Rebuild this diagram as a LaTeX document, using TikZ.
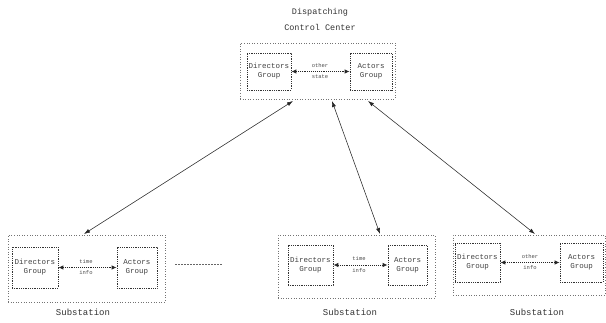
\documentclass[tikz,border=0pt]{standalone}
\usepackage{fontspec}
\setmonofont{Liberation Mono}
\usetikzlibrary{arrows.meta}
\begin{document}
\begin{tikzpicture}[x=1pt,y=-1pt,
  outerbox/.style={draw=black!55,dotted,line width=0.6pt,minimum width=#1,inner sep=0pt},
  innerbox/.style={draw=black!80,densely dotted,line width=0.8pt,inner sep=0pt,align=center,
     font=\ttfamily\fontsize{7.5}{9}\selectfont,text=black!75},
  link/.style={densely dotted,line width=0.9pt,black!85,{Latex[length=5pt,width=4.5pt]}-{Latex[length=5pt,width=4.5pt]}},
  longlink/.style={line width=0.55pt,black!85,{Latex[length=6pt,width=4pt]}-{Latex[length=6pt,width=4pt]}},
  lbl/.style={font=\ttfamily\fontsize{5.5}{6.5}\selectfont,text=black!70,inner sep=1pt},
  ttl/.style={font=\ttfamily\fontsize{8.5}{10}\selectfont,text=black!80}]
\useasboundingbox (0,0) rectangle (606,323);

% titles
\node[ttl] (t1) at (320,12) {Dispatching};
\node[ttl] (t2) at (320,27) {Control Center};

% top group
\node[outerbox=155pt,minimum height=56pt] (top) at (317.5,71) {};
\node[innerbox,minimum width=44pt,minimum height=37pt] (tl) at (269,71.5) {Directors\\Group};
\node[innerbox,minimum width=42pt,minimum height=37pt] (tr) at (371,71.5) {Actors\\Group};
\draw[link] (tl) -- (tr);
\node[lbl] (tlab1) at (320,65.5) {other};
\node[lbl] (tlab2) at (320,77) {state};

% substation 1
\node[outerbox=157pt,minimum height=67pt] (s1) at (86.5,268.5) {};
\node[innerbox,minimum width=46pt,minimum height=41pt] (s1l) at (35,267.5) {Directors\\Group};
\node[innerbox,minimum width=40pt,minimum height=41pt] (s1r) at (137,267.5) {Actors\\Group};
\draw[link] (s1l) -- (s1r);
\node[lbl] (s1lab1) at (86,261.5) {time};
\node[lbl] (s1lab2) at (86,273) {info};
\node[ttl,font=\ttfamily\fontsize{9}{10}\selectfont] (s1t) at (83,312) {Substation};

% separator
\coordinate (d1) at (175,264);
\coordinate (d2) at (222,264);
\draw[black!60,dash pattern=on 1.5pt off 1.5pt,line width=0.6pt] (d1) -- (d2);

% substation 2
\node[outerbox=157pt,minimum height=63pt] (s2) at (356.5,266.5) {};
\node[innerbox,minimum width=45pt,minimum height=40pt] (s2l) at (310.5,265) {Directors\\Group};
\node[innerbox,minimum width=39pt,minimum height=40pt] (s2r) at (407.5,265) {Actors\\Group};
\draw[link] (s2l) -- (s2r);
\node[lbl] (s2lab1) at (359,259) {time};
\node[lbl] (s2lab2) at (359,270.5) {info};
\node[ttl,font=\ttfamily\fontsize{9}{10}\selectfont] (s2t) at (350,312) {Substation};

% substation 3
\node[outerbox=152pt,minimum height=60pt] (s3) at (529,265) {};
\node[innerbox,minimum width=45pt,minimum height=39pt] (s3l) at (477.5,262.5) {Directors\\Group};
\node[innerbox,minimum width=43pt,minimum height=39pt] (s3r) at (581.5,262.5) {Actors\\Group};
\draw[link] (s3l) -- (s3r);
\node[lbl] (s3lab1) at (530,256.5) {other};
\node[lbl] (s3lab2) at (530,268) {info};
\node[ttl,font=\ttfamily\fontsize{9}{10}\selectfont] (s3t) at (537,312) {Substation};

% long links
\coordinate (a1t) at (293,101);
\coordinate (a1b) at (84,234);
\coordinate (a2t) at (332,101);
\coordinate (a2b) at (380,234);
\coordinate (a3t) at (368,101);
\coordinate (a3b) at (535,234);
\draw[longlink] (a1t) -- (a1b);
\draw[longlink] (a2t) -- (a2b);
\draw[longlink] (a3t) -- (a3b);
\end{tikzpicture}
\end{document}
